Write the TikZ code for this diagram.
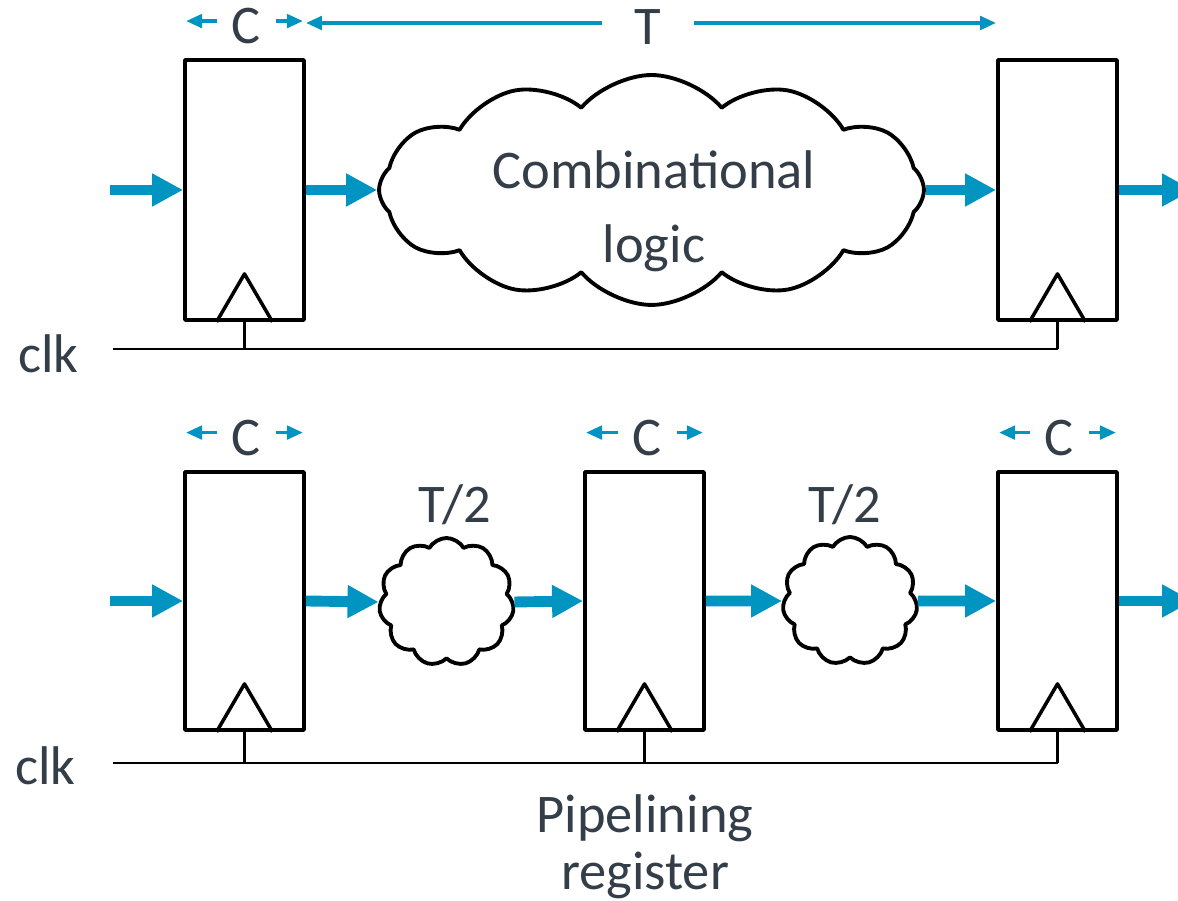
\documentclass[tikz,border=0pt]{standalone}
\usepackage{fontspec}
\setmainfont{Carlito}
\usetikzlibrary{arrows.meta,shapes.symbols,calc}
\definecolor{flow}{RGB}{0,148,192}
\definecolor{ink}{RGB}{52,62,72}
\begin{document}
\begin{tikzpicture}[x=0.02cm, y=0.02cm, line join=round,
    font=\fontsize{31}{38}\selectfont, text=ink,
    reg/.style={draw, line width=2.2pt, minimum width=2.38cm},
    logic/.style={cloud, draw, line width=2.2pt, cloud ignores aspect},
    bus/.style={line width=6.2pt, flow, -{Triangle[length=0.62cm,width=0.62cm]}},
    dim/.style={line width=2pt, flow, -{Triangle[length=0.32cm,width=0.27cm]}},
    trig/.style={line width=2pt},
    clock/.style={line width=1.4pt},
    lbl/.style={anchor=base, inner sep=0pt}]
  \useasboundingbox (0,0) rectangle (1178,901);
  \clip (0,0) rectangle (1178,901);

  % one long stage
  \node[reg, minimum height=5.2cm] (a1) at (244.5,711) {};
  \node[reg, minimum height=5.2cm] (a2) at (1057.5,711) {};
  \node[logic, cloud puffs=12, cloud puff arc=100, minimum width=10.9cm, minimum height=4.6cm] (comb) at (651.5,711) {};
  \node[align=center, anchor=base, font=\fontsize{31}{42.5}\selectfont] (combtxt) at (654,638) {Combinational\\logic};

  \node[lbl, inner xsep=0.29cm] (ca1) at ($(a1.north)+(2,15)$) {C};
  \node[lbl, inner xsep=0.64cm] (tlab) at (648,856) {T};
  \draw[dim, shorten >=0.06cm] ([yshift=0.44cm]ca1.base west) -- ([yshift=0.44cm]ca1.base west -| a1.west);
  \draw[dim, shorten >=0.06cm] ([yshift=0.44cm]ca1.base east) -- ([yshift=0.44cm]ca1.base east -| a1.east);
  \draw[dim] ([yshift=0.44cm]tlab.base west) -- ([yshift=0.44cm]tlab.base west -| a1.east);
  \draw[dim] ([yshift=0.44cm]tlab.base east) -- ([yshift=0.44cm]tlab.base east -| a2.west);

  \coordinate (inA) at (110,711);
  \coordinate (outA) at (1193,711);
  \draw[bus] (inA) -- (a1.west);
  \draw[bus] (a1.east) -- (comb.west);
  \draw[bus] (comb.east) -- (a2.west);
  \draw[bus] (a2.east) -- (outA);

  \draw[trig] ($(a1.south)+(-28,0)$) -- ++(28,48) -- ++(28,-48)
              ($(a2.south)+(-28,0)$) -- ++(28,48) -- ++(28,-48);
  \coordinate (clkA) at (113,552);
  \node[lbl, anchor=base west] (clkAtxt) at (18,528) {clk};
  \draw[clock] (clkA) -- (clkA -| a2.south);
  \draw[clock] (a1.south) -- (a1.south |- clkA)
               (a2.south) -- (a2.south |- clkA);

  % two half stages
  \node[reg, minimum height=5.16cm] (b1) at (244.5,300) {};
  \node[reg, minimum height=5.16cm] (b2) at (644.5,300) {};
  \node[reg, minimum height=5.16cm] (b3) at (1057.5,300) {};
  \node[logic, cloud puffs=11, cloud puff arc=120, minimum width=2.7cm, minimum height=2.56cm] (half1) at (446.5,299) {};
  \node[logic, cloud puffs=11, cloud puff arc=120, minimum width=2.7cm, minimum height=2.56cm] (half2) at (850,300) {};
  \node[lbl] (th1) at (455,378) {T/2};
  \node[lbl] (th2) at (845,378) {T/2};

  \node[lbl, inner xsep=0.29cm] (cb1) at ($(b1.north)+(2,15)$) {C};
  \node[lbl, inner xsep=0.29cm] (cb2) at ($(b2.north)+(3,15)$) {C};
  \node[lbl, inner xsep=0.29cm] (cb3) at ($(b3.north)+(2,15)$) {C};
  \draw[dim, shorten >=0.06cm] ([yshift=0.45cm]cb1.base west) -- ([yshift=0.45cm]cb1.base west -| b1.west);
  \draw[dim, shorten >=0.06cm] ([yshift=0.45cm]cb1.base east) -- ([yshift=0.45cm]cb1.base east -| b1.east);
  \draw[dim, shorten >=0.06cm] ([yshift=0.45cm]cb2.base west) -- ([yshift=0.45cm]cb2.base west -| b2.west);
  \draw[dim, shorten >=0.06cm] ([yshift=0.45cm]cb2.base east) -- ([yshift=0.45cm]cb2.base east -| b2.east);
  \draw[dim, shorten >=0.06cm] ([yshift=0.45cm]cb3.base west) -- ([yshift=0.45cm]cb3.base west -| b3.west);
  \draw[dim, shorten >=0.06cm] ([yshift=0.45cm]cb3.base east) -- ([yshift=0.45cm]cb3.base east -| b3.east);

  \coordinate (inB) at (110,300);
  \coordinate (outB) at (1193,300);
  \draw[bus] (inB) -- (b1.west);
  \draw[bus] (b1.east) -- (half1.west);
  \draw[bus] (half1.east) -- (b2.west);
  \draw[bus] (b2.east) -- (half2.west);
  \draw[bus] (half2.east) -- (b3.west);
  \draw[bus] (b3.east) -- (outB);

  \draw[trig] ($(b1.south)+(-28,0)$) -- ++(28,48) -- ++(28,-48)
              ($(b2.south)+(-28,0)$) -- ++(28,48) -- ++(28,-48)
              ($(b3.south)+(-28,0)$) -- ++(28,48) -- ++(28,-48);
  \coordinate (clkB) at (113,138);
  \node[lbl, anchor=base west] (clkBtxt) at (15,116) {clk};
  \draw[clock] (clkB) -- (clkB -| b3.south);
  \draw[clock] (b1.south) -- (b1.south |- clkB)
               (b2.south) -- (b2.south |- clkB)
               (b3.south) -- (b3.south |- clkB);

  \node[align=center, anchor=base, font=\fontsize{31}{33}\selectfont] (pipe) at (645,11) {Pipelining\\register};
\end{tikzpicture}
\end{document}
